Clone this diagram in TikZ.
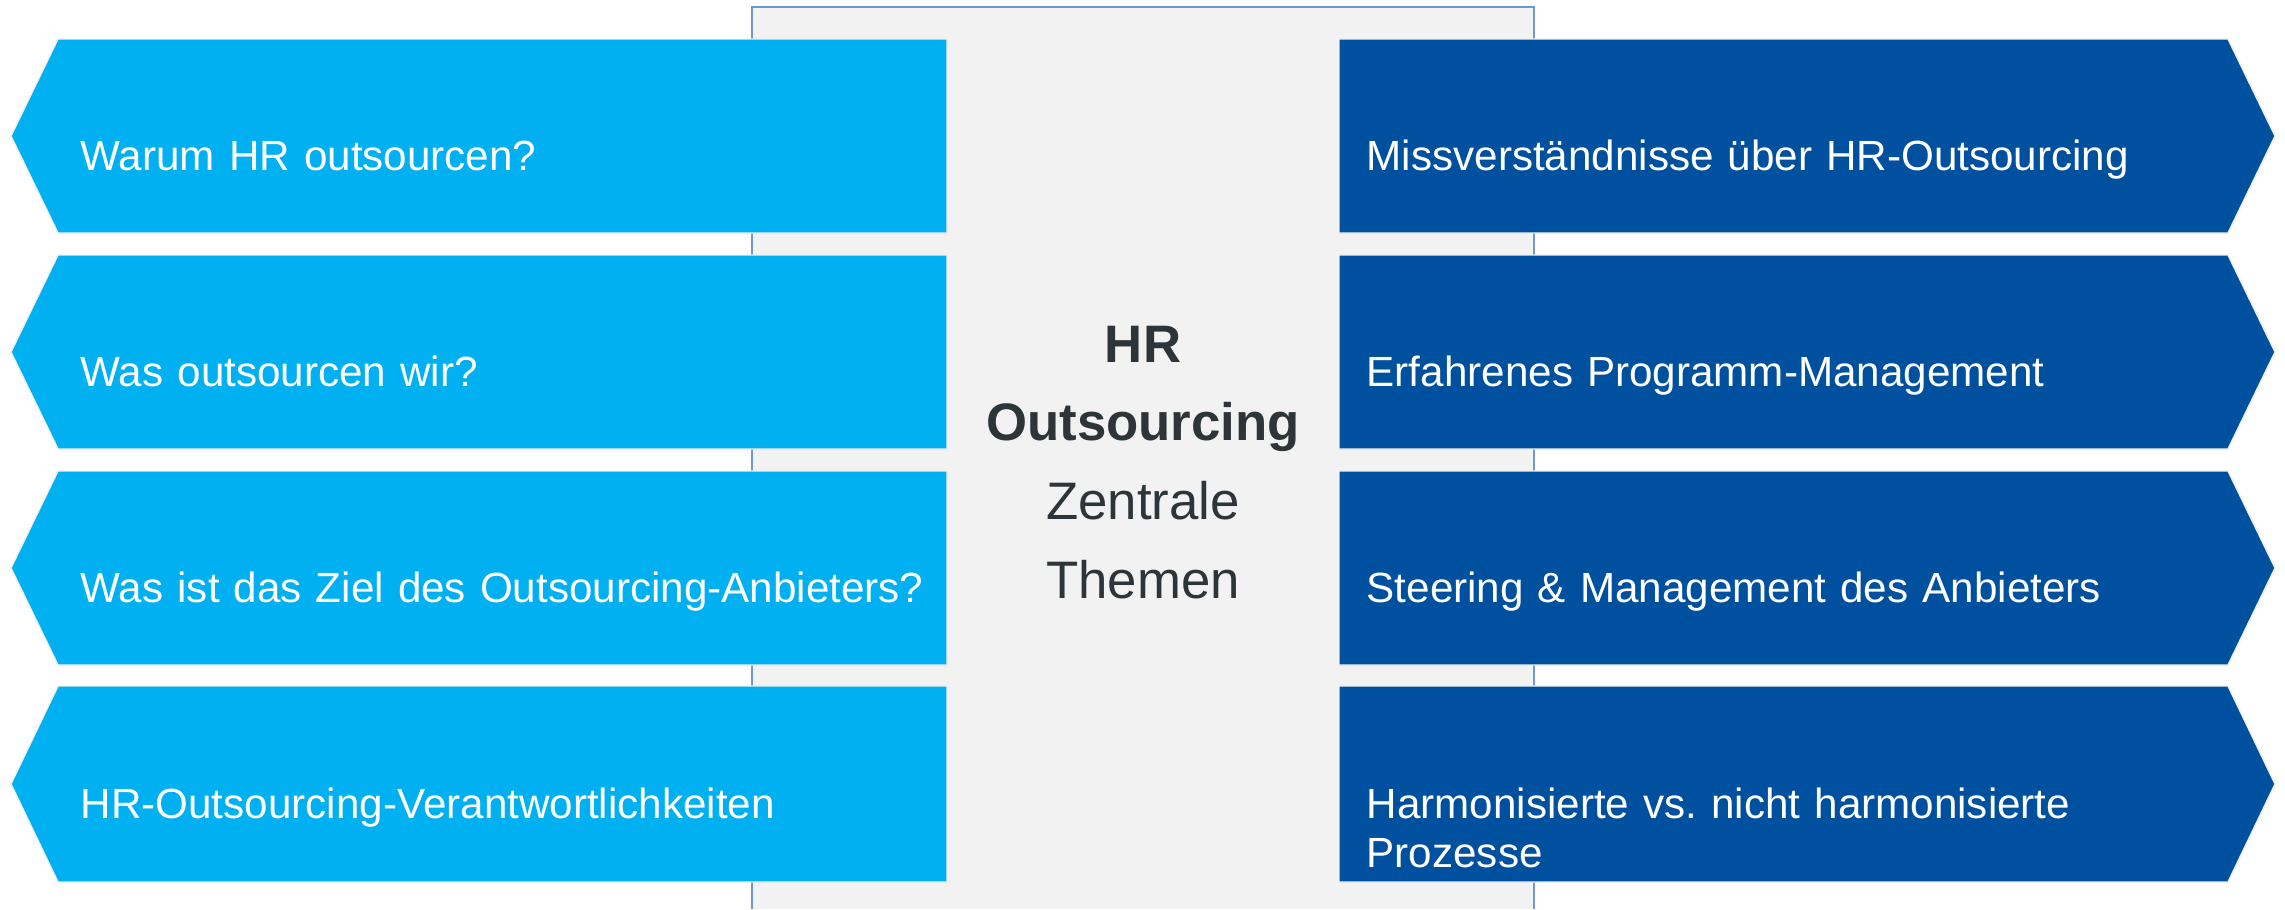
\documentclass[tikz,border=0pt]{standalone}
\usepackage{fontspec}
\setmainfont{Liberation Sans}
\usepackage{xcolor}
\usepackage{tikz}
\definecolor{hrlight}{RGB}{0,176,240}
\definecolor{hrdark}{RGB}{0,80,160}
\definecolor{panelgray}{RGB}{242,242,242}
\definecolor{panelline}{RGB}{112,150,212}
\definecolor{titlegray}{RGB}{45,53,57}
\frenchspacing

\begin{document}
\begin{tikzpicture}[x=0.01cm, y=-0.01cm,
  lefttag/.style={fill=hrlight, draw=gray!12, line width=0.4pt},
  righttag/.style={fill=hrdark, draw=gray!12, line width=0.4pt},
  tagtext/.style={anchor=base west, inner sep=0pt, text width=8.7cm, align=left, text=white, font=\fontsize{12}{14.2}\selectfont}]
\useasboundingbox (0,0) rectangle (2285,909);

% Center panel
\fill[panelgray] (752,7) rectangle (1534,909);
\draw[panelline, line width=0.6pt] (752,909) -- (752,7) -- (1534,7) -- (1534,909);

% Left tags
\draw[lefttag] (947,39) -- (58,39) -- (11,136) -- (58,233) -- (947,233) -- cycle;
\draw[lefttag] (947,255) -- (58,255) -- (11,352) -- (58,449) -- (947,449) -- cycle;
\draw[lefttag] (947,471) -- (58,471) -- (11,568) -- (58,665) -- (947,665) -- cycle;
\draw[lefttag] (947,686) -- (58,686) -- (11,784) -- (58,882) -- (947,882) -- cycle;

% Right tags
\draw[righttag] (1339,39) -- (2228,39) -- (2275,136) -- (2228,233) -- (1339,233) -- cycle;
\draw[righttag] (1339,255) -- (2228,255) -- (2275,352) -- (2228,449) -- (1339,449) -- cycle;
\draw[righttag] (1339,471) -- (2228,471) -- (2275,568) -- (2228,665) -- (1339,665) -- cycle;
\draw[righttag] (1339,686) -- (2228,686) -- (2275,784) -- (2228,882) -- (1339,882) -- cycle;

% Left texts
\node[tagtext] (why) at (80,170) {Warum HR outsourcen?};
\node[tagtext] (what) at (80,386) {Was outsourcen wir?};
\node[tagtext] (goal) at (80,602) {Was ist das Ziel des Outsourcing-Anbieters?};
\node[tagtext] (duties) at (80,818) {HR-Outsourcing-Verantwortlichkeiten};

% Right texts
\node[tagtext] (myths) at (1366,170) {Missverständnisse über HR-Outsourcing};
\node[tagtext] (program) at (1366,386) {Erfahrenes Programm-Management};
\node[tagtext] (steering) at (1366,602) {Steering \& Management des Anbieters};
\node[tagtext] (process) at (1366,818) {Harmonisierte vs. nicht harmonisierte\\Prozesse};

% Center title
\node[anchor=base, inner sep=0pt, text width=7cm, align=center, text=titlegray, font=\fontsize{15}{22.4}\selectfont] (title) at (1143,362) {\textbf{HR}\\\textbf{Outsourcing}\\Zentrale\\Themen};
\end{tikzpicture}
\end{document}
